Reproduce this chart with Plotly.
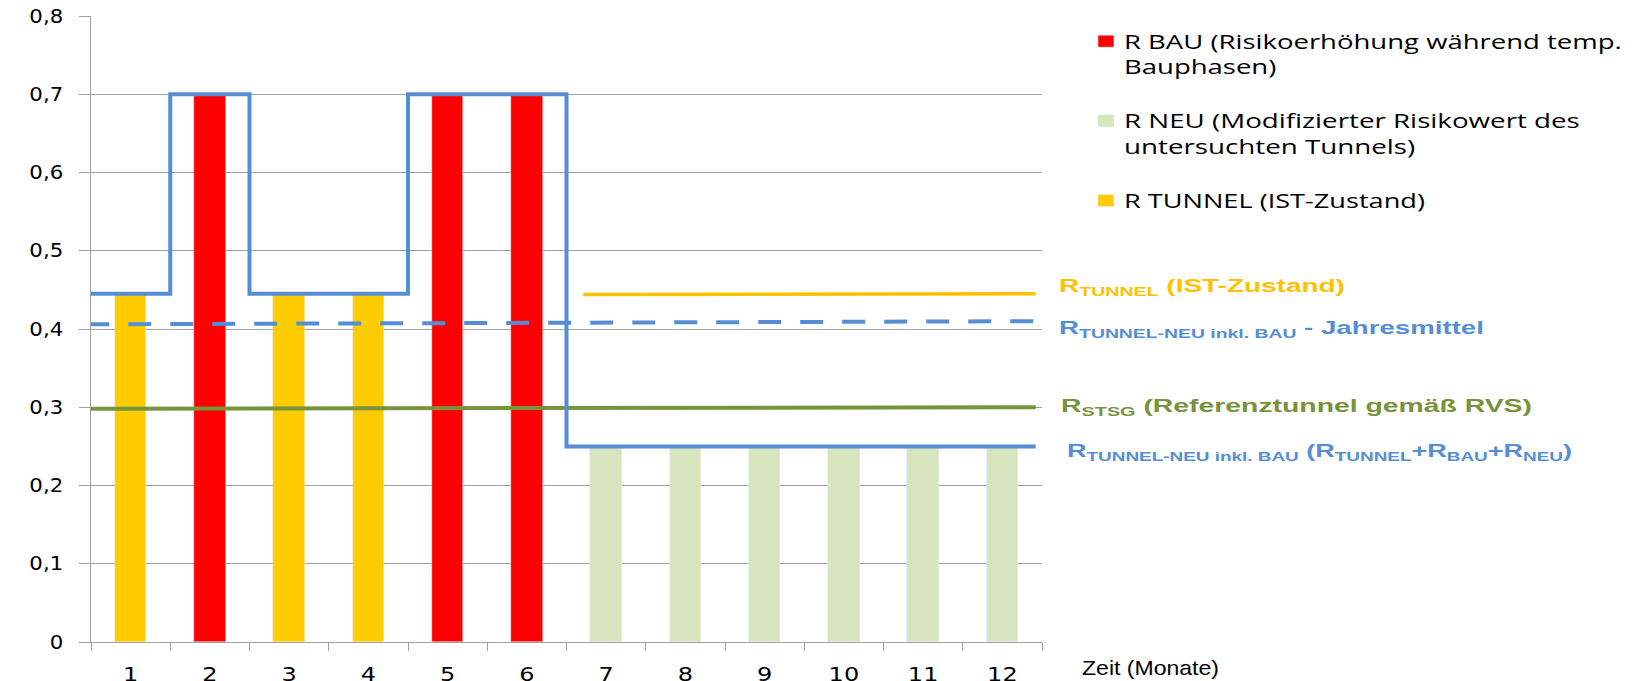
import json
import plotly.graph_objects as go

# ---- data -------------------------------------------------------------
months = list(range(1, 13))
month_labels = [str(m) for m in months]

r_bau = [None, 0.7, None, None, 0.7, 0.7, None, None, None, None, None, None]
r_neu = [None, None, None, None, None, None, 0.25, 0.25, 0.25, 0.25, 0.25, 0.25]
r_tunnel = [0.445, None, 0.445, 0.445, None, None, None, None, None, None, None, None]

# monthly total R TUNNEL-NEU inkl. BAU
r_total = [0.445, 0.7, 0.445, 0.445, 0.7, 0.7, 0.25, 0.25, 0.25, 0.25, 0.25, 0.25]

# reference levels (start / end value) and their x extent in months
r_mean = [0.406, 0.41]
r_stsg = [0.298, 0.3]
r_tunnel_ist = [0.444, 0.445]
span_full = [0.44, 12.42]
span_after = [6.71, 12.42]

y_ticks = [0, 0.1, 0.2, 0.3, 0.4, 0.5, 0.6, 0.7, 0.8]
y_ticktext = ["0", "0,1", "0,2", "0,3", "0,4", "0,5", "0,6", "0,7", "0,8"]

# ---- colours ----------------------------------------------------------
RED = "#FF0000"
LIGHTGREEN = "#D7E4BD"
YELLOW = "#FFCC00"
YELLOW_LINE = "#FFC000"
BLUE = "#558ED5"
OLIVE = "#77933C"
GRID = "#A0A0A0"

# ---- layout geometry (pixels) ----------------------------------------
W, H = 1640, 681
L, R, T, B = 91, 1042, 16, 642


def px_x(p):
    return (p - L) / (R - L)


def px_y(p):
    return (B - p) / (B - T)


fig = go.Figure()

# bars
fig.add_trace(go.Bar(x=months, y=r_bau, width=0.4, marker_color=RED,
                     name="R BAU (Risikoerhöhung während temp.<br>Bauphasen)",
                     legendgroup="a"))
fig.add_trace(go.Bar(x=months, y=r_neu, width=0.4, marker_color=LIGHTGREEN,
                     name="R NEU (Modifizierter Risikowert des<br>untersuchten Tunnels)",
                     legendgroup="b"))
fig.add_trace(go.Bar(x=months, y=r_tunnel, width=0.4, marker_color=YELLOW,
                     name="R TUNNEL (IST-Zustand)", legendgroup="c"))

# reference lines
fig.add_trace(go.Scatter(x=span_full, y=r_stsg, mode="lines",
                         line=dict(color=OLIVE, width=4),
                         showlegend=False, cliponaxis=False, hoverinfo="skip"))
fig.add_trace(go.Scatter(x=span_full, y=r_mean, mode="lines",
                         line=dict(color=BLUE, width=4, dash="23px,19px"),
                         showlegend=False, cliponaxis=False, hoverinfo="skip"))
fig.add_trace(go.Scatter(x=span_after, y=r_tunnel_ist, mode="lines",
                         line=dict(color=YELLOW_LINE, width=3.5),
                         showlegend=False, cliponaxis=False, hoverinfo="skip"))

# stepped total risk per month
step_x = [m - 0.5 for m in months] + [span_full[1]]
step_y = r_total + [r_total[-1]]
fig.add_trace(go.Scatter(x=step_x, y=step_y, mode="lines", line_shape="hv",
                         line=dict(color=BLUE, width=4),
                         showlegend=False, cliponaxis=False, hoverinfo="skip"))

# right-hand labels: (left px, centre px, text, colour, drawn width px)
lab_font = "Liberation Sans, Arial, sans-serif"
labels = [
    (1057, 287, "<b>R<sub>TUNNEL</sub> (IST-Zustand)</b>", YELLOW_LINE, 286),
    (1057, 329, "<b>R<sub>TUNNEL-NEU inkl. BAU</sub> - Jahresmittel</b>", BLUE, 425),
    (1059, 407, "<b>R<sub>STSG</sub> (Referenztunnel gemäß RVS)</b>", OLIVE, 471),
    (1065, 452, "<b>R<sub>TUNNEL-NEU inkl. BAU</sub> (R<sub>TUNNEL</sub>+R<sub>BAU</sub>+R<sub>NEU</sub>)</b>", BLUE, 505),
]
annotations = []
ann_widths = []
for xp, yp, txt, col, wpx in labels:
    annotations.append(dict(x=px_x(xp), y=px_y(yp), xref="paper", yref="paper",
                            xanchor="left", yanchor="middle", showarrow=False,
                            text=txt, font=dict(family=lab_font, size=19, color=col)))
    ann_widths.append(wpx)

annotations.append(dict(x=px_x(1080), y=px_y(667), xref="paper", yref="paper",
                        xanchor="left", yanchor="middle", showarrow=False,
                        text="Zeit (Monate)",
                        font=dict(family=lab_font, size=21, color="#000000")))
ann_widths.append(137)

# drawn widths of the legend entries (widest line), px
legend_widths = [498, 456, 301]

fig.update_layout(
    width=W, height=H,
    margin=dict(l=L, r=W - R, t=T, b=H - B, pad=0, autoexpand=False),
    paper_bgcolor="white", plot_bgcolor="white",
    barmode="overlay",
    bargap=0,
    annotations=annotations,
    showlegend=True,
    legend=dict(
        x=px_x(1084), y=px_y(22), xanchor="left", yanchor="top",
        font=dict(family="Open Sans, sans-serif", size=19.5, color="#000000"),
        valign="top", traceorder="grouped", tracegroupgap=26,
        bgcolor="rgba(0,0,0,0)",
    ),
    xaxis=dict(
        range=[0.5, 12.5], tickvals=months, ticktext=month_labels,
        ticks="", showgrid=False, zeroline=False, automargin=False,
        showline=True, linecolor=GRID, linewidth=1,
        tickfont=dict(family="DejaVu Sans, Verdana, sans-serif", size=20, color="#000000"),
        ticklabelstandoff=14,
        minor=dict(tickvals=[m - 0.5 for m in months] + [12.5], ticks="outside", ticklen=8,
                   tickcolor=GRID, tickwidth=1, showgrid=False),
    ),
    yaxis=dict(
        range=[0, 0.8], tickvals=y_ticks, ticktext=y_ticktext,
        ticks="outside", ticklen=11, tickcolor=GRID, tickwidth=1,
        showgrid=True, gridcolor=GRID, gridwidth=1, zeroline=False, automargin=False,
        showline=True, linecolor=GRID, linewidth=1,
        tickfont=dict(family="DejaVu Sans, Verdana, sans-serif", size=19, color="#000000"),
        ticklabelstandoff=12,
    ),
)

# The chart's lettering is set wide; widen text horizontally around its anchor.
widen_js = """
var gd = document.getElementById('{plot_id}');
var annW = %s, legW = %s;
function widenEl(el, k, a) {
  if (el.getAttribute('data-wide')) return;
  var bb = el.getBBox();
  if (typeof k === 'function') k = k(bb);
  var ax = a === 'end' ? bb.x + bb.width : (a === 'middle' ? bb.x + bb.width / 2 : bb.x);
  var tr = el.getAttribute('transform') || '';
  el.setAttribute('transform', tr + ' translate(' + ax + ',0) scale(' + k + ',1) translate(' + (-ax) + ',0)');
  el.setAttribute('data-wide', '1');
}
function widenAll() {
  gd.querySelectorAll('.legend, .legend .scrollbox').forEach(function (e) {
    e.removeAttribute('clip-path');
  });
  gd.querySelectorAll('.legendtext').forEach(function (el, i) {
    widenEl(el, function (bb) { return legW[i] / bb.width; }, 'start');
  });
  gd.querySelectorAll('.legendpoints path').forEach(function (el) {
    widenEl(el, 1.33, 'start');
  });
  gd.querySelectorAll('.annotation-text').forEach(function (el, i) {
    widenEl(el, function (bb) { return annW[i] / bb.width; }, 'start');
  });
  gd.querySelectorAll('.ytick text').forEach(function (el) { widenEl(el, 1.12, 'end'); });
  gd.querySelectorAll('.xtick text').forEach(function (el) { widenEl(el, 1.2, 'middle'); });
}
widenAll();
gd.on('plotly_afterplot', widenAll);
""" % (json.dumps(ann_widths), json.dumps(legend_widths))

fig.write_html("out.html", post_script=widen_js)
